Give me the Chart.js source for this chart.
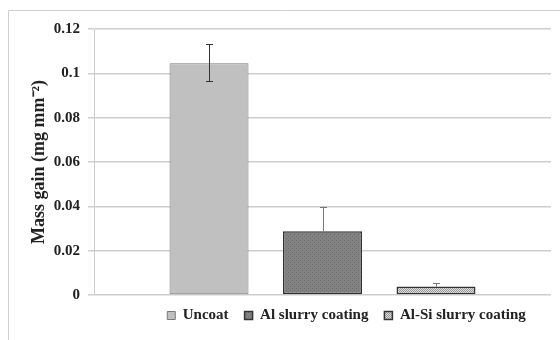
<!DOCTYPE html>
<html>
<head>
<meta charset="utf-8">
<script src="https://cdn.jsdelivr.net/npm/chart.js@4/dist/chart.umd.min.js"></script>
<style>
html,body{margin:0;padding:0;background:#fff;}
#wrap{width:560px;height:340px;position:relative;}
</style>
</head>
<body>
<div id="wrap"><canvas id="c" width="560" height="340"></canvas></div>
<script>
const seriesNames = ['Uncoat', 'Al slurry coating', 'Al-Si slurry coating'];
const values = [0.1045, 0.0288, 0.0038];
const errPlus = [0.0087, 0.0110, 0.0016];
const errMinus = [0.0080, 0, 0];
const yMax = 0.12;
const yStep = 0.02;
const yTitle = 'Mass gain (mg mm\u207B\u00B2)';

function makePattern(bg, fg, kind) {
  const p = document.createElement('canvas');
  p.width = 4; p.height = 4;
  const g = p.getContext('2d');
  g.fillStyle = bg; g.fillRect(0, 0, 4, 4);
  g.fillStyle = fg;
  if (kind === 'dots') {
    g.fillRect(0, 0, 1, 1); g.fillRect(2, 2, 1, 1);
  } else {
    for (let i = 0; i < 4; i++) { g.fillRect(i, i, 1, 1); g.fillRect((i + 2) % 4, i, 1, 1); }
  }
  return document.getElementById('c').getContext('2d').createPattern(p, 'repeat');
}

const fills = ['#c0c0c0', makePattern('#828282', '#6a6a6a', 'dots'), makePattern('#dcdcdc', '#9a9a9a', 'diag')];
const borders = ['#7a7a7a', '#333333', '#333333'];
const borderWidths = [1, 1.5, 1.5];
const errColors = ['#333333', '#777777', '#777777'];

const frame = {
  id: 'frame',
  beforeDraw(chart) {
    const ctx = chart.ctx;
    ctx.save();
    ctx.fillStyle = '#fff';
    ctx.fillRect(0, 0, chart.width, chart.height);
    ctx.strokeStyle = '#cfcfcf';
    ctx.lineWidth = 1;
    ctx.beginPath();
    ctx.moveTo(8.5, 340); ctx.lineTo(8.5, 10.5); ctx.lineTo(560, 10.5);
    ctx.stroke();
    ctx.restore();
  }
};

const legendShift = {
  id: 'legendShift',
  afterLayout(chart) {
    const lg = chart.legend;
    if (lg) { lg.left += 66; lg.right += 66; lg.top -= 3; lg.bottom -= 3; }
  }
};

const errorBars = {
  id: 'errorBars',
  afterDatasetsDraw(chart) {
    const ctx = chart.ctx, y = chart.scales.y;
    ctx.save();
    chart.data.datasets.forEach((ds, i) => {
      const bar = chart.getDatasetMeta(i).data[0];
      const v = values[i];
      const top = y.getPixelForValue(v + errPlus[i]);
      const bot = y.getPixelForValue(v - errMinus[i]);
      const x = Math.round(bar.x) + 0.5;
      ctx.strokeStyle = errColors[i];
      ctx.lineWidth = 1;
      ctx.beginPath();
      ctx.moveTo(x, top); ctx.lineTo(x, bot);
      ctx.moveTo(x - 3.5, Math.round(top) + 0.5); ctx.lineTo(x + 3.5, Math.round(top) + 0.5);
      if (errMinus[i] > 0) { ctx.moveTo(x - 3.5, Math.round(bot) + 0.5); ctx.lineTo(x + 3.5, Math.round(bot) + 0.5); }
      ctx.stroke();
    });
    ctx.restore();
  }
};

new Chart(document.getElementById('c'), {
  type: 'bar',
  data: {
    labels: [''],
    datasets: seriesNames.map((n, i) => ({
      label: n,
      data: [values[i]],
      backgroundColor: fills[i],
      borderColor: borders[i],
      borderWidth: borderWidths[i],
      borderSkipped: false
    }))
  },
  options: {
    responsive: false,
    animation: false,
    devicePixelRatio: 1,
    categoryPercentage: 0.745,
    barPercentage: 0.696,
    layout: { padding: { left: 10, right: 9, top: 29, bottom: 4 } },
    plugins: {
      tooltip: { enabled: false },
      legend: {
        position: 'bottom',
        labels: {
          boxWidth: 8, boxHeight: 8, padding: 16,
          color: '#222',
          font: { family: 'Liberation Serif', size: 15, weight: 'bold' }
        }
      }
    },
    scales: {
      x: {
        display: true,
        grid: { display: false, drawTicks: false },
        border: { display: false },
        ticks: { display: false }
      },
      y: {
        min: 0, max: yMax,
        ticks: {
          stepSize: yStep,
          color: '#222',
          padding: 8,
          font: { family: 'Liberation Serif', size: 15, weight: 'bold' },
          callback: v => String(+v.toFixed(2))
        },
        grid: { color: '#cdcdcd', lineWidth: 1.5, tickLength: 6 },
        border: { display: true, color: '#cdcdcd', width: 1 },
        title: {
          display: true, text: yTitle, color: '#222',
          font: { family: 'Liberation Serif', size: 18, weight: 'bold' },
          padding: { top: 19, bottom: 0 }
        },
        afterFit(s) { s.width = 84; }
      }
    }
  },
  plugins: [frame, legendShift, errorBars]
});
</script>
</body>
</html>
